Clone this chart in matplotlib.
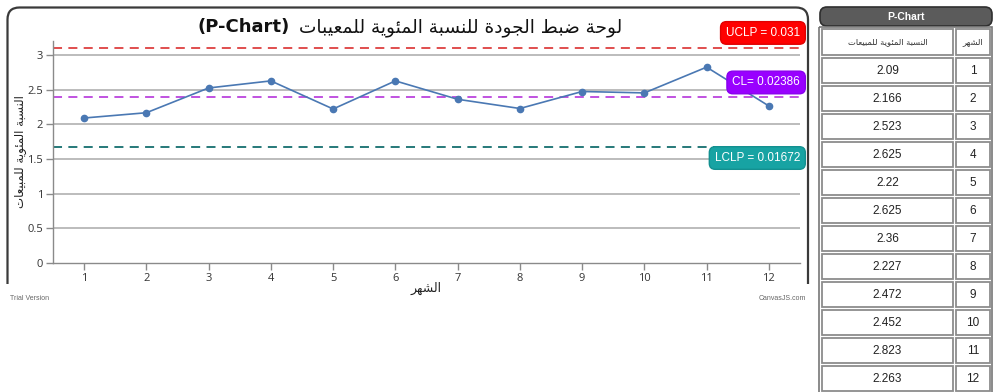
import numpy as np
import matplotlib
matplotlib.use("Agg")
import matplotlib.pyplot as plt
from matplotlib.patches import FancyBboxPatch, Rectangle

# --- data -------------------------------------------------------------
months = [1, 2, 3, 4, 5, 6, 7, 8, 9, 10, 11, 12]
pct_values = [2.09, 2.166, 2.523, 2.625, 2.22, 2.625, 2.36, 2.227, 2.472, 2.452, 2.823, 2.263]
table_values = ["2.09", "2.166", "2.523", "2.625", "2.22", "2.625", "2.36", "2.227",
                "2.472", "2.452", "2.823", "2.263"]
ucl = 0.031
cl = 0.02386
lcl = 0.01672
y_ticks = [0, 0.5, 1, 1.5, 2, 2.5, 3]

title_ar = "لوحة ضبط الجودة للنسبة المئوية للمعيبات"
xlabel_ar = "الشهر"
ylabel_ar = "النسبة المئوية للمبيعات"

# --- minimal arabic shaping (presentation forms + RTL order) ----------
DUAL = {'ب': 0xFE8F, 'ت': 0xFE95, 'ج': 0xFE9D, 'ح': 0xFEA1, 'س': 0xFEB1, 'ش': 0xFEB5,
        'ض': 0xFEBD, 'ط': 0xFEC1, 'ع': 0xFEC9, 'ل': 0xFEDD, 'م': 0xFEE1, 'ن': 0xFEE5,
        'ه': 0xFEE9, 'ي': 0xFEF1, 'ئ': 0xFE89}
RIGHT = {'ا': 0xFE8D, 'ة': 0xFE93, 'د': 0xFEA9, 'ر': 0xFEAD, 'و': 0xFEED}


def shape(s):
    out = []
    for i, ch in enumerate(s):
        if ch not in DUAL and ch not in RIGHT:
            out.append(ch)
            continue
        prev = s[i - 1] if i > 0 else ''
        nxt = s[i + 1] if i + 1 < len(s) else ''
        jp = prev in DUAL
        jn = ch in DUAL and (nxt in DUAL or nxt in RIGHT)
        base = DUAL.get(ch, RIGHT.get(ch))
        if jp and jn:
            code = base + 3
        elif jp:
            code = base + 1
        elif jn:
            code = base + 2
        else:
            code = base
        out.append(chr(code))
    return ''.join(out)[::-1]


AR = ['DejaVu Sans']
LAT = ['Liberation Sans', 'DejaVu Sans']

fig = plt.figure(figsize=(9.93, 3.92), dpi=100)

# background layer in pixel units
bg = fig.add_axes([0, 0, 1, 1], zorder=0)
bg.set_xlim(0, 993)
bg.set_ylim(392, 0)
bg.axis('off')

# chart panel border (open at the bottom)
panel = FancyBboxPatch((7.5, 7.5), 800.5, 310, boxstyle="round,pad=0,rounding_size=12",
                       fc='white', ec='#3a3a3a', lw=1.6)
bg.add_patch(panel)
panel.set_clip_path(Rectangle((0, 0), 993, 284, transform=bg.transData))

bg.text(10, 298, "Trial Version", fontsize=5, color='#666', family=LAT, va='center')
bg.text(806, 298, "CanvasJS.com", fontsize=5, color='#666', family=LAT, va='center', ha='right')

# title: arabic part plus bold latin tag
bg.text(622, 28, shape(title_ar), fontsize=13.3, family=AR, ha='right', va='center', color='#111')
bg.text(290, 27, "(P-Chart)", fontsize=13, family=['DejaVu Sans'], weight='heavy',
        ha='right', va='center', color='#111')

# --- table on the right ----------------------------------------------
bg.add_patch(FancyBboxPatch((820, 7), 172, 19, boxstyle="round,pad=0,rounding_size=7",
                            fc='#5b5b5b', ec='#2f2f2f', lw=1.2))
bg.text(906, 16.5, "P-Chart", color='white', fontsize=7.5, weight='bold', family=LAT,
        ha='center', va='center')
bg.add_patch(Rectangle((819, 27), 173, 370, fc='none', ec='#777', lw=1.2))

row_top = 29
row_pitch = 28
cell_h = 25
hdr = [(shape(ylabel_ar), 822, 131), (shape(xlabel_ar), 956, 34)]
for txt, x0, w in hdr:
    bg.add_patch(Rectangle((x0, row_top), w, cell_h + 1, fc='white', ec='#8c8c8c', lw=1.3))
    bg.text(x0 + w / 2, row_top + cell_h / 2, txt, fontsize=6, family=AR,
            ha='center', va='center', color='#333')
for i, (m, v) in enumerate(zip(months, table_values)):
    y0 = row_top + (i + 1) * row_pitch + 1
    bg.add_patch(Rectangle((822, y0), 131, cell_h, fc='white', ec='#8c8c8c', lw=1.3))
    bg.add_patch(Rectangle((956, y0), 34, cell_h, fc='white', ec='#8c8c8c', lw=1.3))
    bg.text(887.5, y0 + cell_h / 2, v, fontsize=8.5, family=LAT, ha='center', va='center', color='#222')
    bg.text(973, y0 + cell_h / 2, str(m), fontsize=8.5, family=LAT, ha='center', va='center', color='#222')

# --- p-chart ----------------------------------------------------------
ax = fig.add_axes([53 / 993, (392 - 263) / 392, (800 - 53) / 993, (263 - 41) / 392], zorder=1)
ax.patch.set_alpha(0)
ax.set_xlim(0.5, 12.5)
ax.set_ylim(0, 3.2)
ax.set_xticks(months)
ax.set_yticks(y_ticks)
ax.set_yticklabels(["0", "0.5", "1", "1.5", "2", "2.5", "3"])
for s in ['top', 'right']:
    ax.spines[s].set_visible(False)
for s in ['left', 'bottom']:
    ax.spines[s].set_color('#8a8a8a')
    ax.spines[s].set_linewidth(1.0)
ax.tick_params(axis='both', length=5, width=1, color='#8a8a8a', labelsize=8,
               labelcolor='#333', pad=2)
for lab in ax.get_xticklabels() + ax.get_yticklabels():
    lab.set_family(['Open Sans', 'DejaVu Sans'])
for yv in y_ticks[1:]:
    ax.axhline(yv, color='#b0b0b0', lw=1.2, zorder=1)

ax.axhline(ucl * 100, color='#dd4040', lw=1.3, ls=(0, (5, 3.5)), zorder=2)
ax.axhline(cl * 100, color='#bb44dd', lw=1.3, ls=(0, (5, 3.5)), zorder=2)
ax.axhline(lcl * 100, color='#156e6e', lw=1.3, ls=(0, (5, 3.5)), zorder=2)

ax.plot(months, pct_values, color='#4a78b3', lw=1.2, marker='o', ms=4.5, zorder=3)

box_kw = dict(xycoords=('axes fraction', 'data'), textcoords='offset pixels', ha='right',
              va='center', color='white', fontsize=8.5, family=LAT, annotation_clip=False, zorder=5)
ax.annotate("UCLP = %g" % ucl, xy=(1, ucl * 100), xytext=(0, 15),
            bbox=dict(boxstyle='round,pad=0.45,rounding_size=0.5', fc='#ff0000', ec='#e00000'), **box_kw)
ax.annotate("CL= %g" % cl, xy=(1, cl * 100), xytext=(0, 15),
            bbox=dict(boxstyle='round,pad=0.45,rounding_size=0.5', fc='#9900ff', ec='#8800ee'), **box_kw)
ax.annotate("LCLP = %g" % lcl, xy=(1, lcl * 100), xytext=(0, -11),
            bbox=dict(boxstyle='round,pad=0.45,rounding_size=0.5', fc='#17a3a3', ec='#139090'), **box_kw)

ax.set_xlabel(shape(xlabel_ar), family=AR, fontsize=9, color='#222')
ax.xaxis.set_label_coords(0.5, -0.085)
ax.set_ylabel(shape(ylabel_ar), family=AR, fontsize=8.5, color='#222', va='center')
ax.yaxis.set_label_coords(-0.044, 0.5)

fig.savefig("out.png", dpi=100)
